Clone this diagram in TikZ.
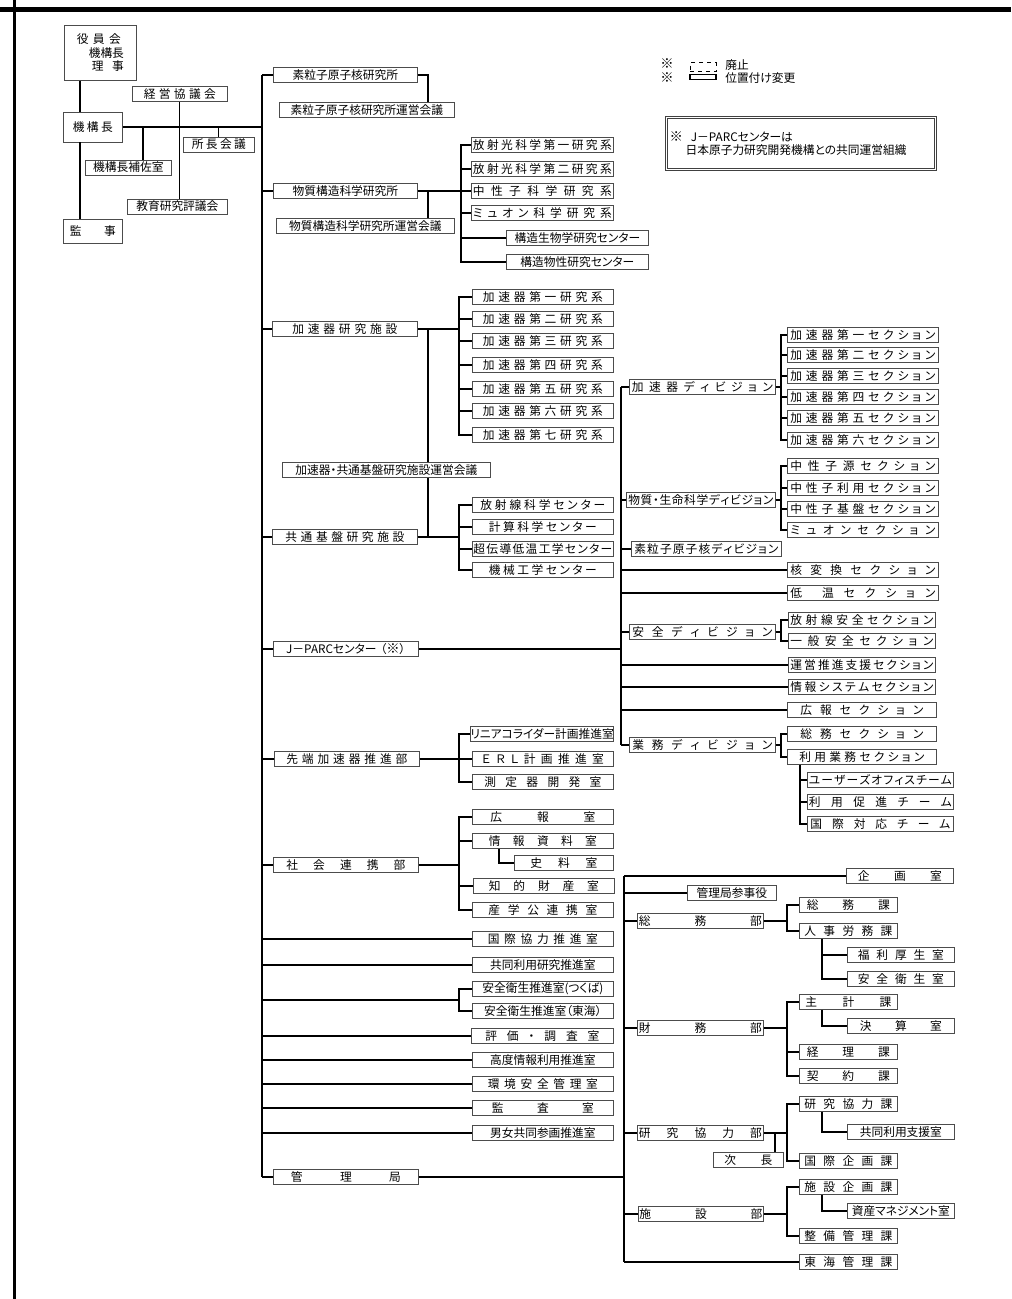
\documentclass[tikz,border=0pt]{standalone}
\usepackage{fontspec}
\setmainfont{Noto Sans CJK JP}[RawFeature=+palt]
\newdimen\pxu \pxu=0.75pt
% spread a text over a given width (in px of the reference)
\newcommand{\sw}[2]{{\spaceskip=0pt plus 1fil\relax\makebox[#1\pxu][s]{#2}}}
\newcommand{\kome}{{\fontsize{10}{10}\selectfont ※}}
\tikzset{
  orgbox/.style={draw=black!70, line width=0.55pt, fill=white, anchor=west, inner sep=0pt,
    minimum width=#1*0.75pt, minimum height=11.25pt},
  link/.style={line width=0.8pt},
}
\begin{document}
\begin{tikzpicture}[x=0.75pt, y=-0.75pt, font=\fontsize{8.8}{10}\selectfont]
\useasboundingbox (0,0) rectangle (1011,1299);
\draw[line width=4.2pt] (0,9.5) -- (1011,9.5);
\draw[line width=2pt] (14.5,0) -- (14.5,1299);

% executive
\node[orgbox=72, anchor=north west, minimum height=41.25pt, align=left] (yakuin) at (64,25) {\sw{44}{役 員 会}\\\hspace{9pt}機構長\\\hspace{11.25pt}\sw{32}{理 事}};
\node[orgbox=95] (keiei) at (132,94) {\sw{72}{経 営 協 議 会}};
\node[orgbox=59, minimum height=22.5pt] (kikocho) at (63,127) {\sw{40}{機 構 長}};
\node[orgbox=71] (shocho) at (183,144.5) {\sw{54}{所 長 会 議}};
\node[orgbox=86] (hosa) at (85,167.5) {機構長補佐室};
\node[orgbox=100] (kyoiku) at (127,206.5) {教育研究評議会};
\node[orgbox=59, minimum height=18pt] (kanji) at (63,231) {\sw{46}{監 事}};

% institutes and offices
\node[orgbox=144] (soryu) at (273,75) {素粒子原子核研究所};
\node[orgbox=175] (soryuK) at (279,110) {素粒子原子核研究所運営会議};
\node[orgbox=144] (bussei) at (273,191) {物質構造科学研究所};
\node[orgbox=178] (busseiK) at (276,226) {物質構造科学研究所運営会議};
\node[orgbox=145] (kasoku) at (272,329) {\sw{105}{加 速 器 研 究 施 設}};
\node[orgbox=208] (unei) at (282,470) {加速器・共通基盤研究施設運営会議};
\node[orgbox=145] (kyotsu) at (272,537) {\sw{119}{共 通 基 盤 研 究 施 設}};
\node[orgbox=145] (jparc) at (273,649) {J－PARCセンター\hspace{3pt}（\kome）};
\node[orgbox=145] (sentan) at (274,759) {\sw{121}{先 端 加 速 器 推 進 部}};
\node[orgbox=145] (shakai) at (273,865) {\sw{119}{社 会 連 携 部}};
\node[orgbox=145] (kanri) at (273,1177) {\sw{110}{管 理 局}};

\node[orgbox=142] (hosha1) at (471,145) {\sw{139}{放 射 光 科 学 第 一 研 究 系}};
\node[orgbox=142] (hosha2) at (471,169) {\sw{139}{放 射 光 科 学 第 二 研 究 系}};
\node[orgbox=142] (chusei) at (471,191) {\sw{139}{中 性 子 科 学 研 究 系}};
\node[orgbox=142] (muon) at (471,213) {\sw{139}{ミ ュ オ ン 科 学 研 究 系}};
\node[orgbox=142] (kozo1) at (506,238) {構造生物学研究センター};
\node[orgbox=142] (kozo2) at (506,262) {構造物性研究センター};

\node[orgbox=141] (k1) at (472,297) {\sw{120}{加 速 器 第 一 研 究 系}};
\node[orgbox=141] (k2) at (472,319) {\sw{120}{加 速 器 第 二 研 究 系}};
\node[orgbox=141] (k3) at (472,341) {\sw{120}{加 速 器 第 三 研 究 系}};
\node[orgbox=141] (k4) at (472,365) {\sw{120}{加 速 器 第 四 研 究 系}};
\node[orgbox=141] (k5) at (472,389) {\sw{120}{加 速 器 第 五 研 究 系}};
\node[orgbox=141] (k6) at (472,411) {\sw{120}{加 速 器 第 六 研 究 系}};
\node[orgbox=141] (k7) at (472,435) {\sw{120}{加 速 器 第 七 研 究 系}};

\node[orgbox=141] (hoshasen) at (472,505) {\sw{125}{放 射 線 科 学 セ ン タ ー}};
\node[orgbox=141] (keisan) at (472,527) {\sw{108}{計 算 科 学 セ ン タ ー}};
\node[orgbox=141] (chodendo) at (472,549) {\sw{139}{超 伝 導 低 温 工 学 セ ン タ ー}};
\node[orgbox=141] (kikai) at (472,570) {\sw{108}{機 械 工 学 セ ン タ ー}};

\node[orgbox=143] (linear) at (470,734) {リニアコライダー計画推進室};
\node[orgbox=141] (erl) at (472,759) {\sw{122}{Ｅ Ｒ Ｌ 計 画 推 進 室}};
\node[orgbox=141] (sokutei) at (472,782) {\sw{117}{測 定 器 開 発 室}};

\node[orgbox=141] (kohoshitsu) at (472,817) {\sw{105}{広 報 室}};
\node[orgbox=141] (johoshiryo) at (472,841) {\sw{108}{情 報 資 料 室}};
\node[orgbox=99] (shiryo) at (514,863) {\sw{67}{史 料 室}};
\node[orgbox=141] (chiteki) at (473,886) {\sw{110}{知 的 財 産 室}};
\node[orgbox=141] (sangaku) at (472,910) {\sw{109}{産 学 公 連 携 室}};
\node[orgbox=141] (kokusai) at (472,939) {\sw{110}{国 際 協 力 推 進 室}};
\node[orgbox=141] (kyodo) at (472,965) {共同利用研究推進室};
\node[orgbox=141] (anzen1) at (472,989) {安全衛生推進室(つくば)};
\node[orgbox=141] (anzen2) at (472,1011) {安全衛生推進室（東海）};
\node[orgbox=142] (hyoka) at (471,1036) {\sw{114}{評 価 ・ 調 査 室}};
\node[orgbox=141] (kodo) at (472,1060) {高度情報利用推進室};
\node[orgbox=141] (kankyo) at (472,1084) {\sw{110}{環 境 安 全 管 理 室}};
\node[orgbox=141] (kansa) at (472,1108) {\sw{102}{監 査 室}};
\node[orgbox=141] (danjo) at (472,1133) {男女共同参画推進室};

% J-PARC divisions and sections
\node[orgbox=146] (divA) at (629,387) {\sw{141}{加 速 器 デ ィ ビ ジ ョ ン}};
\node[orgbox=149] (divM) at (626,500) {\sw{145}{物 質 ・ 生 命 科 学 デ ィ ビ ジ ョ ン}};
\node[orgbox=150] (divP) at (631,549) {\sw{144}{素 粒 子 原 子 核 デ ィ ビ ジ ョ ン}};
\node[orgbox=146] (divS) at (629,632) {\sw{140}{安 全 デ ィ ビ ジ ョ ン}};
\node[orgbox=146] (divG) at (629,745) {\sw{140}{業 務 デ ィ ビ ジ ョ ン}};

\node[orgbox=151] (a1) at (787,335) {\sw{145}{加 速 器 第 一 セ ク シ ョ ン}};
\node[orgbox=151] (a2) at (787,355) {\sw{145}{加 速 器 第 二 セ ク シ ョ ン}};
\node[orgbox=151] (a3) at (787,376) {\sw{145}{加 速 器 第 三 セ ク シ ョ ン}};
\node[orgbox=151] (a4) at (787,397) {\sw{145}{加 速 器 第 四 セ ク シ ョ ン}};
\node[orgbox=151] (a5) at (787,418) {\sw{145}{加 速 器 第 五 セ ク シ ョ ン}};
\node[orgbox=151] (a6) at (787,440) {\sw{145}{加 速 器 第 六 セ ク シ ョ ン}};
\node[orgbox=151] (m1) at (787,466) {\sw{145}{中 性 子 源 セ ク シ ョ ン}};
\node[orgbox=151] (m2) at (787,488) {\sw{145}{中 性 子 利 用 セ ク シ ョ ン}};
\node[orgbox=151] (m3) at (787,509) {\sw{145}{中 性 子 基 盤 セ ク シ ョ ン}};
\node[orgbox=151] (m4) at (787,530) {\sw{145}{ミ ュ オ ン セ ク シ ョ ン}};
\node[orgbox=151] (kakuhen) at (787,570) {\sw{145}{核 変 換 セ ク シ ョ ン}};
\node[orgbox=151] (teion) at (787,593) {\sw{145}{低 {} 温 セ ク シ ョ ン}};
\node[orgbox=147] (s1) at (788,620) {\sw{143}{放 射 線 安 全 セ ク シ ョ ン}};
\node[orgbox=147] (s2) at (788,641) {\sw{143}{一 般 安 全 セ ク シ ョ ン}};
\node[orgbox=147] (unei2) at (788,665) {\sw{143}{運 営 推 進 支 援 セ ク シ ョ ン}};
\node[orgbox=147] (johosys) at (788,687) {\sw{143}{情 報 シ ス テ ム セ ク シ ョ ン}};
\node[orgbox=149] (koho2) at (787,710) {\sw{123}{広 報 セ ク シ ョ ン}};
\node[orgbox=149] (g1) at (787,734) {\sw{123}{総 務 セ ク シ ョ ン}};
\node[orgbox=149] (g2) at (787,757) {\sw{125}{利 用 業 務 セ ク シ ョ ン}};
\node[orgbox=146] (t1) at (807,780) {\sw{143}{ユ ー ザ ー ズ オ フ ィ ス チ ー ム}};
\node[orgbox=146] (t2) at (807,802) {\sw{143}{利 用 促 進 チ ー ム}};
\node[orgbox=146] (t3) at (807,824) {\sw{140}{国 際 対 応 チ ー ム}};

% administration bureau
\node[orgbox=107] (kikaku) at (846,876) {\sw{84}{企 画 室}};
\node[orgbox=89] (sanji) at (687,893) {管理局参事役};
\node[orgbox=126] (somubu) at (637,921) {\sw{123}{総 務 部}};
\node[orgbox=98] (somuka) at (799,905) {\sw{83}{総 務 課}};
\node[orgbox=98] (jinji) at (799,931) {\sw{88}{人 事 労 務 課}};
\node[orgbox=107] (fukuri) at (847,955) {\sw{86}{福 利 厚 生 室}};
\node[orgbox=107] (eisei) at (847,979) {\sw{86}{安 全 衛 生 室}};
\node[orgbox=98] (shukei) at (799,1002) {\sw{86}{主 計 課}};
\node[orgbox=107] (kessan) at (847,1026) {\sw{82}{決 算 室}};
\node[orgbox=126] (zaimubu) at (637,1028) {\sw{123}{財 務 部}};
\node[orgbox=98] (keiri) at (799,1052) {\sw{83}{経 理 課}};
\node[orgbox=98] (keiyaku) at (799,1076) {\sw{83}{契 約 課}};
\node[orgbox=98] (kenkyoka) at (799,1104) {\sw{88}{研 究 協 力 課}};
\node[orgbox=107] (shien) at (847,1132) {共同利用支援室};
\node[orgbox=126] (kenkyubu) at (637,1133) {\sw{123}{研 究 協 力 部}};
\node[orgbox=70] (jicho) at (713,1160) {\sw{48}{次 長}};
\node[orgbox=98] (kokusaik) at (799,1161) {\sw{88}{国 際 企 画 課}};
\node[orgbox=98] (shisetsuk) at (799,1187) {\sw{88}{施 設 企 画 課}};
\node[orgbox=107] (shisan) at (847,1211) {資産マネジメント室};
\node[orgbox=125] (shisetsubu) at (638,1214) {\sw{123}{施 設 部}};
\node[orgbox=98] (seibi) at (799,1236) {\sw{88}{整 備 管 理 課}};
\node[orgbox=98] (tokai) at (799,1262) {\sw{88}{東 海 管 理 課}};

% legend and note
\node[inner sep=0pt] (lk1) at (667,64) {\kome};
\node[draw, dashed, line width=0.6pt, inner sep=0pt, minimum width=19.5pt, minimum height=6.75pt] (lgdash) at (703,67) {};
\node[anchor=west, inner sep=0pt] (lghaishi) at (725,65) {廃止};
\node[inner sep=0pt] (lk2) at (667,78) {\kome};
\node[draw, line width=0.9pt, fill=white, inner sep=0pt, minimum width=19.5pt, minimum height=4pt] (lgsolid) at (703,77) {};
\node[anchor=west, inner sep=0pt] (lgichi) at (725,78) {位置付け変更};
\node[draw=black!75, line width=0.6pt, double, double distance=1pt, anchor=north west, inner sep=2.25pt, minimum width=201.75pt, minimum height=39pt, text width=197pt, align=left] (note) at (666,117) {\kome\hspace{6pt}J－PARCセンターは\\\hspace{12pt}日本原子力研究開発機構との共同運営組織};

% executive links
\coordinate (leftX) at (80,0);
\coordinate (hosaX) at (143,0);
\coordinate (trunk) at (262,0);
\draw[link] (leftX |- yakuin.south) -- (leftX |- kikocho.north);
\draw[link] (leftX |- kikocho.south) -- (leftX |- kanji.north);
\draw[link] (kikocho.east) -- (trunk |- kikocho.east);
\draw[link] (hosaX |- kikocho.east) -- (hosaX |- hosa.north);
\draw[link] (keiei.south) -- (keiei.south |- kyoiku.north);
\draw[link] (shocho.north) -- (shocho.north |- kikocho.east);

% trunk
\draw[link] (trunk |- soryu.west) -- (trunk |- kanri.west);
\foreach \n in {soryu,bussei,kasoku,kyotsu,jparc,sentan,shakai,kokusai,kyodo,hyoka,kodo,kankyo,kansa,danjo,kanri}
  \draw[link] (trunk |- \n.west) -- (\n.west);
\coordinate (anzJ) at (459,1000);
\draw[link] (trunk |- anzJ) -- (anzJ);
\foreach \n in {anzen1,anzen2} \draw[link] (anzJ) |- (\n.west);

% institutes
\coordinate (sorX) at (428,0);
\coordinate (bbus) at (461,0);
\coordinate (kbus) at (459,0);
\draw[link] (soryu.east) -| (sorX |- soryuK.north);
\draw[link] (bussei.east) -- (chusei.west);
\draw[link] (sorX |- bussei.east) -- (sorX |- busseiK.north);
\foreach \n in {hosha1,hosha2,muon,kozo1,kozo2} \draw[link] (bbus |- chusei.west) |- (\n.west);
\draw[link] (kasoku.east) -- (kasoku.east -| kbus);
\foreach \i in {1,...,7} \draw[link] (kasoku.east -| kbus) |- (k\i.west);
\draw[link] (sorX |- kasoku.east) -- (sorX |- unei.north);
\draw[link] (sorX |- unei.south) -- (sorX |- kyotsu.east);
\draw[link] (kyotsu.east) -- (kyotsu.east -| kbus);
\foreach \n in {hoshasen,keisan,chodendo,kikai} \draw[link] (kyotsu.east -| kbus) |- (\n.west);
\draw[link] (sentan.east) -- (sentan.east -| kbus);
\foreach \n in {linear,erl,sokutei} \draw[link] (sentan.east -| kbus) |- (\n.west);
\draw[link] (shakai.east) -- (shakai.east -| kbus);
\foreach \n in {kohoshitsu,johoshiryo,chiteki,sangaku} \draw[link] (shakai.east -| kbus) |- (\n.west);
\coordinate (shX) at (499,0);
\draw[link] (shX |- johoshiryo.south) |- (shiryo.west);

% J-PARC
\coordinate (jbus) at (621,0);
\coordinate (dbus) at (781,0);
\coordinate (tbus) at (800,0);
\draw[link] (jparc.east) -- (jparc.east -| jbus);
\draw[link] (jbus |- divA.west) -- (jbus |- divG.west);
\foreach \n in {divA,divM,divP,kakuhen,teion,divS,unei2,johosys,koho2,divG}
  \draw[link] (jbus |- \n.west) -- (\n.west);
\draw[link] (divA.east) -- (divA.east -| dbus);
\foreach \i in {1,...,6} \draw[link] (divA.east -| dbus) |- (a\i.west);
\draw[link] (divM.east) -- (divM.east -| dbus);
\foreach \i in {1,...,4} \draw[link] (divM.east -| dbus) |- (m\i.west);
\draw[link] (divS.east) -- (divS.east -| dbus);
\foreach \i in {1,2} \draw[link] (divS.east -| dbus) |- (s\i.west);
\draw[link] (divG.east) -- (divG.east -| dbus);
\foreach \i in {1,2} \draw[link] (divG.east -| dbus) |- (g\i.west);
\foreach \i in {1,2,3} \draw[link] (tbus |- g2.south) |- (t\i.west);

% administration bureau
\coordinate (mbus) at (624,0);
\coordinate (bbus2) at (787,0);
\coordinate (subX) at (822,0);
\coordinate (jX) at (775,0);
\draw[link] (kanri.east) -- (kanri.east -| mbus);
\draw[link] (mbus |- kikaku.west) -- (mbus |- tokai.west);
\foreach \n in {kikaku,sanji,somubu,zaimubu,kenkyubu,shisetsubu,tokai}
  \draw[link] (mbus |- \n.west) -- (\n.west);
\draw[link] (somubu.east) -- (somubu.east -| bbus2);
\foreach \n in {somuka,jinji} \draw[link] (somubu.east -| bbus2) |- (\n.west);
\foreach \n in {fukuri,eisei} \draw[link] (subX |- jinji.south) |- (\n.west);
\draw[link] (zaimubu.east) -- (zaimubu.east -| bbus2);
\foreach \n in {shukei,keiri,keiyaku} \draw[link] (zaimubu.east -| bbus2) |- (\n.west);
\draw[link] (subX |- shukei.south) |- (kessan.west);
\draw[link] (kenkyubu.east) -- (kenkyubu.east -| bbus2);
\foreach \n in {kenkyoka,kokusaik} \draw[link] (kenkyubu.east -| bbus2) |- (\n.west);
\draw[link] (subX |- kenkyoka.south) |- (shien.west);
\draw[link] (jX |- kenkyubu.east) -- (jX |- jicho.north);
\draw[link] (shisetsubu.east) -- (shisetsubu.east -| bbus2);
\foreach \n in {shisetsuk,seibi} \draw[link] (shisetsubu.east -| bbus2) |- (\n.west);
\draw[link] (subX |- shisetsuk.south) |- (shisan.west);
\end{tikzpicture}
\end{document}
